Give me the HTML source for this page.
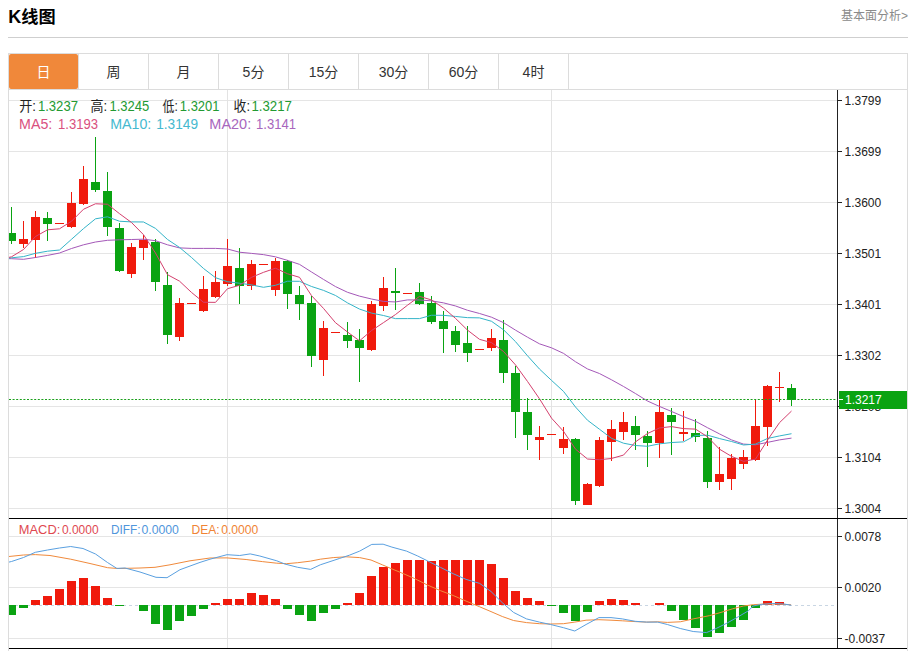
<!DOCTYPE html>
<html><head><meta charset="utf-8"><title>K线图</title>
<style>
html,body{margin:0;padding:0;background:#fff;}
body{width:915px;height:651px;overflow:hidden;position:relative;font-family:"Liberation Sans","Noto Sans CJK SC",sans-serif;}
svg{position:absolute;left:0;top:0;display:block;}
text{font-family:"Liberation Sans","Noto Sans CJK SC",sans-serif;}
</style></head><body>
<svg width="915" height="651" viewBox="0 0 915 651">

<text x="8.3" y="23" font-size="18" font-weight="bold" fill="#000">K<tspan font-size="17.2">线图</tspan></text>
<text x="908" y="20" font-size="12" fill="#8a8a8a" text-anchor="end">基本面分析&gt;</text>
<rect x="8" y="37" width="900" height="1" fill="#cfcfcf" shape-rendering="crispEdges"/>
<g shape-rendering="crispEdges">
<rect x="8" y="53" width="900" height="1" fill="#dcdcdc"/>
<rect x="8" y="89" width="900" height="1" fill="#dcdcdc"/>
<rect x="8" y="53" width="1" height="598" fill="#dcdcdc"/>
<rect x="907" y="53" width="1" height="598" fill="#dcdcdc"/>
<rect x="78" y="53" width="1" height="36" fill="#dcdcdc"/>
<rect x="148" y="53" width="1" height="36" fill="#dcdcdc"/>
<rect x="218" y="53" width="1" height="36" fill="#dcdcdc"/>
<rect x="288" y="53" width="1" height="36" fill="#dcdcdc"/>
<rect x="358" y="53" width="1" height="36" fill="#dcdcdc"/>
<rect x="428" y="53" width="1" height="36" fill="#dcdcdc"/>
<rect x="498" y="53" width="1" height="36" fill="#dcdcdc"/>
<rect x="568" y="53" width="1" height="36" fill="#dcdcdc"/>
</g>
<rect x="9" y="54" width="69" height="35" rx="2" fill="#f0883a"/>
<text x="43.5" y="77" font-size="14" fill="#fff" text-anchor="middle">日</text>
<text x="113.5" y="77" font-size="14" fill="#333" text-anchor="middle">周</text>
<text x="183.5" y="77" font-size="14" fill="#333" text-anchor="middle">月</text>
<text x="253.5" y="77" font-size="14" fill="#333" text-anchor="middle">5分</text>
<text x="323.5" y="77" font-size="14" fill="#333" text-anchor="middle">15分</text>
<text x="393.5" y="77" font-size="14" fill="#333" text-anchor="middle">30分</text>
<text x="463.5" y="77" font-size="14" fill="#333" text-anchor="middle">60分</text>
<text x="533.5" y="77" font-size="14" fill="#333" text-anchor="middle">4时</text>
<g shape-rendering="crispEdges" fill="#e5e5e5">
<rect x="9" y="100" width="828" height="1"/>
<rect x="9" y="151" width="828" height="1"/>
<rect x="9" y="202" width="828" height="1"/>
<rect x="9" y="253" width="828" height="1"/>
<rect x="9" y="304" width="828" height="1"/>
<rect x="9" y="355" width="828" height="1"/>
<rect x="9" y="406" width="828" height="1"/>
<rect x="9" y="457" width="828" height="1"/>
<rect x="9" y="508" width="828" height="1"/>
<rect x="9" y="536" width="828" height="1"/>
<rect x="9" y="587" width="828" height="1"/>
<rect x="9" y="638" width="828" height="1"/>
<rect x="227" y="90" width="1" height="558" fill="#e3e3e3"/>
<rect x="551" y="90" width="1" height="558" fill="#e3e3e3"/>
</g>
<line x1="9" y1="605.5" x2="837" y2="605.5" stroke="#c9d6e3" stroke-width="1" stroke-dasharray="3,3" shape-rendering="crispEdges"/>
<defs><clipPath id="cl2"><rect x="9" y="0" width="828" height="651"/></clipPath></defs>
<g shape-rendering="crispEdges" clip-path="url(#cl2)">
<rect x="11" y="207" width="1" height="37" fill="#0aa312"/>
<rect x="7" y="233" width="9" height="8" fill="#0aa312"/>
<rect x="23" y="221" width="1" height="27" fill="#f01a0c"/>
<rect x="19" y="239" width="9" height="5" fill="#f01a0c"/>
<rect x="35" y="211" width="1" height="47" fill="#f01a0c"/>
<rect x="31" y="217" width="9" height="23" fill="#f01a0c"/>
<rect x="47" y="212" width="1" height="29" fill="#0aa312"/>
<rect x="43" y="218" width="9" height="6" fill="#0aa312"/>
<rect x="55" y="223" width="9" height="1" fill="#f01a0c"/>
<rect x="71" y="192" width="1" height="36" fill="#f01a0c"/>
<rect x="67" y="203" width="9" height="24" fill="#f01a0c"/>
<rect x="83" y="166" width="1" height="39" fill="#f01a0c"/>
<rect x="79" y="179" width="9" height="25" fill="#f01a0c"/>
<rect x="95" y="137" width="1" height="55" fill="#0aa312"/>
<rect x="91" y="182" width="9" height="8" fill="#0aa312"/>
<rect x="107" y="172" width="1" height="64" fill="#0aa312"/>
<rect x="103" y="191" width="9" height="36" fill="#0aa312"/>
<rect x="119" y="223" width="1" height="49" fill="#0aa312"/>
<rect x="115" y="228" width="9" height="43" fill="#0aa312"/>
<rect x="131" y="243" width="1" height="35" fill="#f01a0c"/>
<rect x="127" y="247" width="9" height="27" fill="#f01a0c"/>
<rect x="143" y="235" width="1" height="25" fill="#f01a0c"/>
<rect x="139" y="240" width="9" height="8" fill="#f01a0c"/>
<rect x="155" y="239" width="1" height="52" fill="#0aa312"/>
<rect x="151" y="242" width="9" height="40" fill="#0aa312"/>
<rect x="167" y="272" width="1" height="72" fill="#0aa312"/>
<rect x="163" y="285" width="9" height="50" fill="#0aa312"/>
<rect x="179" y="298" width="1" height="43" fill="#f01a0c"/>
<rect x="175" y="303" width="9" height="34" fill="#f01a0c"/>
<rect x="187" y="303" width="9" height="1" fill="#f01a0c"/>
<rect x="203" y="276" width="1" height="36" fill="#f01a0c"/>
<rect x="199" y="289" width="9" height="22" fill="#f01a0c"/>
<rect x="215" y="271" width="1" height="27" fill="#f01a0c"/>
<rect x="211" y="282" width="9" height="15" fill="#f01a0c"/>
<rect x="227" y="239" width="1" height="47" fill="#f01a0c"/>
<rect x="223" y="266" width="9" height="18" fill="#f01a0c"/>
<rect x="239" y="248" width="1" height="56" fill="#0aa312"/>
<rect x="235" y="268" width="9" height="18" fill="#0aa312"/>
<rect x="251" y="260" width="1" height="30" fill="#f01a0c"/>
<rect x="247" y="264" width="9" height="22" fill="#f01a0c"/>
<rect x="259" y="264" width="9" height="1" fill="#f01a0c"/>
<rect x="275" y="258" width="1" height="38" fill="#f01a0c"/>
<rect x="271" y="261" width="9" height="29" fill="#f01a0c"/>
<rect x="287" y="260" width="1" height="49" fill="#0aa312"/>
<rect x="283" y="261" width="9" height="33" fill="#0aa312"/>
<rect x="299" y="286" width="1" height="34" fill="#0aa312"/>
<rect x="295" y="295" width="9" height="9" fill="#0aa312"/>
<rect x="311" y="296" width="1" height="71" fill="#0aa312"/>
<rect x="307" y="303" width="9" height="53" fill="#0aa312"/>
<rect x="323" y="321" width="1" height="55" fill="#f01a0c"/>
<rect x="319" y="328" width="9" height="32" fill="#f01a0c"/>
<rect x="331" y="332" width="9" height="1" fill="#f01a0c"/>
<rect x="347" y="322" width="1" height="26" fill="#0aa312"/>
<rect x="343" y="335" width="9" height="6" fill="#0aa312"/>
<rect x="359" y="329" width="1" height="53" fill="#0aa312"/>
<rect x="355" y="340" width="9" height="8" fill="#0aa312"/>
<rect x="371" y="301" width="1" height="50" fill="#f01a0c"/>
<rect x="367" y="304" width="9" height="46" fill="#f01a0c"/>
<rect x="383" y="277" width="1" height="34" fill="#f01a0c"/>
<rect x="379" y="288" width="9" height="18" fill="#f01a0c"/>
<rect x="395" y="268" width="1" height="42" fill="#0aa312"/>
<rect x="391" y="291" width="9" height="2" fill="#0aa312"/>
<rect x="403" y="293" width="9" height="1" fill="#f01a0c"/>
<rect x="419" y="283" width="1" height="22" fill="#0aa312"/>
<rect x="415" y="292" width="9" height="12" fill="#0aa312"/>
<rect x="431" y="296" width="1" height="28" fill="#0aa312"/>
<rect x="427" y="303" width="9" height="19" fill="#0aa312"/>
<rect x="443" y="311" width="1" height="42" fill="#0aa312"/>
<rect x="439" y="321" width="9" height="8" fill="#0aa312"/>
<rect x="455" y="326" width="1" height="26" fill="#0aa312"/>
<rect x="451" y="331" width="9" height="14" fill="#0aa312"/>
<rect x="467" y="326" width="1" height="36" fill="#0aa312"/>
<rect x="463" y="343" width="9" height="10" fill="#0aa312"/>
<rect x="475" y="349" width="9" height="1" fill="#f01a0c"/>
<rect x="491" y="329" width="1" height="22" fill="#f01a0c"/>
<rect x="487" y="338" width="9" height="10" fill="#f01a0c"/>
<rect x="503" y="320" width="1" height="63" fill="#0aa312"/>
<rect x="499" y="340" width="9" height="33" fill="#0aa312"/>
<rect x="515" y="366" width="1" height="72" fill="#0aa312"/>
<rect x="511" y="373" width="9" height="39" fill="#0aa312"/>
<rect x="527" y="398" width="1" height="52" fill="#0aa312"/>
<rect x="523" y="412" width="9" height="23" fill="#0aa312"/>
<rect x="539" y="426" width="1" height="34" fill="#f01a0c"/>
<rect x="535" y="437" width="9" height="3" fill="#f01a0c"/>
<rect x="547" y="434" width="9" height="1" fill="#f01a0c"/>
<rect x="563" y="427" width="1" height="27" fill="#f01a0c"/>
<rect x="559" y="439" width="9" height="9" fill="#f01a0c"/>
<rect x="575" y="438" width="1" height="67" fill="#0aa312"/>
<rect x="571" y="439" width="9" height="62" fill="#0aa312"/>
<rect x="587" y="483" width="1" height="22" fill="#f01a0c"/>
<rect x="583" y="484" width="9" height="21" fill="#f01a0c"/>
<rect x="599" y="437" width="1" height="50" fill="#f01a0c"/>
<rect x="595" y="440" width="9" height="46" fill="#f01a0c"/>
<rect x="611" y="420" width="1" height="41" fill="#f01a0c"/>
<rect x="607" y="429" width="9" height="13" fill="#f01a0c"/>
<rect x="623" y="412" width="1" height="28" fill="#f01a0c"/>
<rect x="619" y="422" width="9" height="10" fill="#f01a0c"/>
<rect x="635" y="416" width="1" height="34" fill="#0aa312"/>
<rect x="631" y="426" width="9" height="9" fill="#0aa312"/>
<rect x="647" y="431" width="1" height="36" fill="#0aa312"/>
<rect x="643" y="436" width="9" height="7" fill="#0aa312"/>
<rect x="659" y="400" width="1" height="58" fill="#f01a0c"/>
<rect x="655" y="412" width="9" height="31" fill="#f01a0c"/>
<rect x="671" y="408" width="1" height="47" fill="#0aa312"/>
<rect x="667" y="415" width="9" height="7" fill="#0aa312"/>
<rect x="683" y="411" width="1" height="30" fill="#f01a0c"/>
<rect x="679" y="432" width="9" height="2" fill="#f01a0c"/>
<rect x="695" y="419" width="1" height="23" fill="#0aa312"/>
<rect x="691" y="433" width="9" height="4" fill="#0aa312"/>
<rect x="707" y="431" width="1" height="57" fill="#0aa312"/>
<rect x="703" y="438" width="9" height="44" fill="#0aa312"/>
<rect x="719" y="447" width="1" height="43" fill="#f01a0c"/>
<rect x="715" y="474" width="9" height="8" fill="#f01a0c"/>
<rect x="731" y="454" width="1" height="36" fill="#f01a0c"/>
<rect x="727" y="458" width="9" height="21" fill="#f01a0c"/>
<rect x="743" y="450" width="1" height="19" fill="#f01a0c"/>
<rect x="739" y="457" width="9" height="7" fill="#f01a0c"/>
<rect x="755" y="399" width="1" height="62" fill="#f01a0c"/>
<rect x="751" y="426" width="9" height="34" fill="#f01a0c"/>
<rect x="767" y="385" width="1" height="61" fill="#f01a0c"/>
<rect x="763" y="386" width="9" height="41" fill="#f01a0c"/>
<rect x="779" y="372" width="1" height="30" fill="#f01a0c"/>
<rect x="775" y="387" width="9" height="1" fill="#f01a0c"/>
<rect x="791" y="384" width="1" height="22" fill="#0aa312"/>
<rect x="787" y="388" width="9" height="12" fill="#0aa312"/>
</g>
<g shape-rendering="crispEdges" clip-path="url(#cl2)">
<rect x="7" y="605" width="9" height="10" fill="#0aa312"/>
<rect x="19" y="605" width="9" height="3" fill="#0aa312"/>
<rect x="31" y="600" width="9" height="5" fill="#f01a0c"/>
<rect x="43" y="596" width="9" height="9" fill="#f01a0c"/>
<rect x="55" y="589" width="9" height="16" fill="#f01a0c"/>
<rect x="67" y="581" width="9" height="24" fill="#f01a0c"/>
<rect x="79" y="578" width="9" height="27" fill="#f01a0c"/>
<rect x="91" y="586" width="9" height="19" fill="#f01a0c"/>
<rect x="103" y="598" width="9" height="7" fill="#f01a0c"/>
<rect x="115" y="605" width="9" height="1" fill="#0aa312"/>
<rect x="139" y="605" width="9" height="6" fill="#0aa312"/>
<rect x="151" y="605" width="9" height="19" fill="#0aa312"/>
<rect x="163" y="605" width="9" height="25" fill="#0aa312"/>
<rect x="175" y="605" width="9" height="16" fill="#0aa312"/>
<rect x="187" y="605" width="9" height="11" fill="#0aa312"/>
<rect x="199" y="605" width="9" height="4" fill="#0aa312"/>
<rect x="211" y="603" width="9" height="2" fill="#f01a0c"/>
<rect x="223" y="599" width="9" height="6" fill="#f01a0c"/>
<rect x="235" y="599" width="9" height="6" fill="#f01a0c"/>
<rect x="247" y="593" width="9" height="12" fill="#f01a0c"/>
<rect x="259" y="595" width="9" height="10" fill="#f01a0c"/>
<rect x="271" y="599" width="9" height="6" fill="#f01a0c"/>
<rect x="283" y="605" width="9" height="4" fill="#0aa312"/>
<rect x="295" y="605" width="9" height="10" fill="#0aa312"/>
<rect x="307" y="605" width="9" height="16" fill="#0aa312"/>
<rect x="319" y="605" width="9" height="8" fill="#0aa312"/>
<rect x="331" y="605" width="9" height="4" fill="#0aa312"/>
<rect x="343" y="603" width="9" height="2" fill="#f01a0c"/>
<rect x="355" y="593" width="9" height="12" fill="#f01a0c"/>
<rect x="367" y="576" width="9" height="29" fill="#f01a0c"/>
<rect x="379" y="567" width="9" height="38" fill="#f01a0c"/>
<rect x="391" y="563" width="9" height="42" fill="#f01a0c"/>
<rect x="403" y="560" width="9" height="45" fill="#f01a0c"/>
<rect x="415" y="560" width="9" height="45" fill="#f01a0c"/>
<rect x="427" y="561" width="9" height="44" fill="#f01a0c"/>
<rect x="439" y="560" width="9" height="45" fill="#f01a0c"/>
<rect x="451" y="560" width="9" height="45" fill="#f01a0c"/>
<rect x="463" y="560" width="9" height="45" fill="#f01a0c"/>
<rect x="475" y="560" width="9" height="45" fill="#f01a0c"/>
<rect x="487" y="564" width="9" height="41" fill="#f01a0c"/>
<rect x="499" y="578" width="9" height="27" fill="#f01a0c"/>
<rect x="511" y="591" width="9" height="14" fill="#f01a0c"/>
<rect x="523" y="598" width="9" height="7" fill="#f01a0c"/>
<rect x="535" y="601" width="9" height="4" fill="#f01a0c"/>
<rect x="547" y="605" width="9" height="1" fill="#0aa312"/>
<rect x="559" y="605" width="9" height="8" fill="#0aa312"/>
<rect x="571" y="605" width="9" height="16" fill="#0aa312"/>
<rect x="583" y="605" width="9" height="7" fill="#0aa312"/>
<rect x="595" y="601" width="9" height="4" fill="#f01a0c"/>
<rect x="607" y="599" width="9" height="6" fill="#f01a0c"/>
<rect x="619" y="600" width="9" height="5" fill="#f01a0c"/>
<rect x="631" y="603" width="9" height="2" fill="#f01a0c"/>
<rect x="655" y="603" width="9" height="2" fill="#f01a0c"/>
<rect x="667" y="605" width="9" height="6" fill="#0aa312"/>
<rect x="679" y="605" width="9" height="15" fill="#0aa312"/>
<rect x="691" y="605" width="9" height="23" fill="#0aa312"/>
<rect x="703" y="605" width="9" height="32" fill="#0aa312"/>
<rect x="715" y="605" width="9" height="28" fill="#0aa312"/>
<rect x="727" y="605" width="9" height="22" fill="#0aa312"/>
<rect x="739" y="605" width="9" height="15" fill="#0aa312"/>
<rect x="751" y="605" width="9" height="3" fill="#0aa312"/>
<rect x="763" y="601" width="9" height="4" fill="#f01a0c"/>
<rect x="775" y="602" width="9" height="3" fill="#f01a0c"/>
</g>
<defs><clipPath id="cm"><rect x="9" y="90" width="828" height="428"/></clipPath><clipPath id="cd"><rect x="9" y="519" width="828" height="129"/></clipPath><clipPath id="cl"><rect x="0" y="0" width="837" height="651"/></clipPath></defs>
<polyline clip-path="url(#cm)" fill="none" stroke="#a458b8" stroke-width="1" stroke-linejoin="round" points="-0.5,258.5 11.5,258.7 23.5,259.3 35.5,257.5 47.5,255.4 59.5,253 71.5,248.5 83.5,244.8 95.5,242 107.5,240.3 119.5,239.8 131.5,239.5 143.5,239.2 155.5,240.7 167.5,244.8 179.5,247.9 191.5,248.4 203.5,248.4 215.5,248.4 227.5,249 239.5,252.23 251.5,253.38 263.5,254.63 275.5,256.85 287.5,260.35 299.5,264.36 311.5,271.98 323.5,279.43 335.5,286.58 347.5,292.29 359.5,296.14 371.5,299 383.5,301.4 395.5,301.96 407.5,299.92 419.5,299.96 431.5,300.87 443.5,302.86 455.5,305.96 467.5,310.27 479.5,313.47 491.5,317.19 503.5,322.64 515.5,330.13 527.5,337.19 539.5,343.83 551.5,347.82 563.5,353.36 575.5,361.74 587.5,368.94 599.5,373.56 611.5,379.79 623.5,386.48 635.5,393.56 647.5,401.02 659.5,406.45 671.5,411.46 683.5,416.62 695.5,421.25 707.5,427.71 719.5,433.91 731.5,439.89 743.5,444.09 755.5,444.81 767.5,442.37 779.5,439.88 791.5,438.12"/>
<polyline clip-path="url(#cm)" fill="none" stroke="#34b4c8" stroke-width="1" stroke-linejoin="round" points="-0.5,259 11.5,257.8 23.5,256.6 35.5,253.3 47.5,251.2 59.5,250 71.5,239.3 83.5,228.6 95.5,218.8 107.5,216.8 119.5,221.24 131.5,221.88 143.5,221.97 155.5,228.41 167.5,239.46 179.5,247.41 191.5,257.47 203.5,268.47 215.5,277.7 227.5,281.69 239.5,283.22 251.5,284.89 263.5,287.29 275.5,285.29 287.5,281.23 299.5,281.31 311.5,286.48 323.5,290.38 335.5,295.47 347.5,302.89 359.5,309.07 371.5,313.1 383.5,315.51 395.5,318.63 407.5,318.6 419.5,318.6 431.5,315.26 443.5,315.33 455.5,316.45 467.5,317.65 479.5,317.86 491.5,321.29 503.5,329.77 515.5,341.63 527.5,355.78 539.5,369.07 551.5,380.38 563.5,391.39 575.5,407.03 587.5,420.23 599.5,429.26 611.5,438.3 623.5,443.19 635.5,445.5 647.5,446.27 659.5,443.83 671.5,442.54 683.5,441.86 695.5,435.47 707.5,435.18 719.5,438.57 731.5,441.48 743.5,444.98 755.5,444.11 767.5,438.47 779.5,435.93 791.5,433.71"/>
<polyline clip-path="url(#cm)" fill="none" stroke="#d4406e" stroke-width="1" stroke-linejoin="round" points="-0.5,259.5 11.5,256.8 23.5,249.5 35.5,236.5 47.5,229.8 59.5,228.8 71.5,221.26 83.5,209.24 95.5,203.78 107.5,204.24 119.5,213.68 131.5,222.5 143.5,234.7 155.5,253.04 167.5,274.68 179.5,281.14 191.5,292.44 203.5,302.24 215.5,302.36 227.5,288.7 239.5,285.3 251.5,277.34 263.5,272.34 275.5,268.22 287.5,273.76 299.5,277.32 311.5,295.62 323.5,308.42 335.5,322.72 347.5,332.02 359.5,340.82 371.5,330.58 383.5,322.6 395.5,314.54 407.5,305.18 419.5,296.38 431.5,299.94 443.5,308.06 455.5,318.36 467.5,330.12 479.5,339.34 491.5,342.64 503.5,351.48 515.5,364.9 527.5,381.44 539.5,398.8 551.5,418.12 563.5,431.3 575.5,449.16 587.5,459.02 599.5,459.72 611.5,458.48 623.5,455.08 635.5,441.84 647.5,433.52 659.5,427.94 671.5,426.6 683.5,428.64 695.5,429.1 707.5,436.84 719.5,449.2 731.5,456.36 743.5,461.32 755.5,459.12 767.5,440.1 779.5,422.66 791.5,411.06"/>
<polyline clip-path="url(#cd)" fill="none" stroke="#f08a3c" stroke-width="1" stroke-linejoin="round" points="8,556.6 23.5,555 35.3,554.6 50,555.5 70.7,559.2 90,563.5 107.6,567.7 118,568.5 140,568 155,567.3 170,564.8 190,560.8 210,558 227,557.9 246.1,559.5 262.3,561.6 276.8,563.2 286.5,563.7 297.7,562.7 310.6,561.1 320.3,559.2 333.2,557.6 346.1,556.8 359.7,557.6 371,560 382.3,564.8 391.9,568.9 401.6,572.9 414.5,578.5 427.4,585 440.3,590.6 453.2,595.5 466.1,601.1 479.7,606.8 491,611.6 502.3,616.5 513.5,620.5 526.5,622.6 539.4,623.7 550.6,624 563.5,623.7 574.8,622.1 586.1,620.2 598.9,619.7 611,620.2 622.3,620.8 635.2,621.6 646.5,622.1 657.7,621.8 667.4,622.4 680.3,621.8 693.2,618.9 709.7,615.6 721,612.4 732.3,608.9 743.5,606 753.2,604.7 764.5,604 775.8,604 783.9,604.4 791.1,604.8"/>
<polyline clip-path="url(#cd)" fill="none" stroke="#5aa0e0" stroke-width="1" stroke-linejoin="round" points="8,562.3 11.5,561.5 23.5,557.5 35.3,552.3 47.5,550 59.5,548 70.7,546.5 83,548.5 95.5,554 107.5,562.5 116.8,568.4 125,568 140,572 156,577.3 167,577.7 180,569.7 200,562.4 210,559.2 227,554.7 239.7,555.5 250.2,553.9 259.8,556 276.8,560.8 284.8,564 297.7,567.3 310.6,569.4 320.3,564.8 330,561.6 339.7,558.4 349.4,555.2 359.7,551.1 371.8,544.4 383.1,544.2 391.9,547.1 406.5,551.1 417.7,556 427.4,560.8 440.3,567.3 453.2,573.7 466.1,579.4 479.7,583.4 491,591.5 502.3,602.7 513.5,612.4 526.5,618.9 539.4,622.1 550.6,624.5 563.5,627.7 574.8,631 586.1,624.5 598.9,617.6 611,617.6 622.3,618.9 635.2,621.3 646.5,622.1 657.7,622.1 667.4,624.5 680.3,628.5 693.2,631.5 706.5,632.6 716.1,628.5 727.4,622.9 738.7,616.5 748.4,610.8 753.2,606 761.3,604.4 772.6,603.5 783.9,604 791.1,605.2"/>
<line x1="9" y1="399.5" x2="837" y2="399.5" stroke="#1aa01a" stroke-width="1" stroke-dasharray="2,1.6"/>
<g shape-rendering="crispEdges" fill="#222">
<rect x="837" y="90" width="1" height="558"/>
<rect x="9" y="518" width="898" height="1" fill="#000"/>
<rect x="9" y="648" width="898" height="1" fill="#000"/>
<rect x="838" y="100" width="4" height="1"/>
<rect x="838" y="151" width="4" height="1"/>
<rect x="838" y="202" width="4" height="1"/>
<rect x="838" y="253" width="4" height="1"/>
<rect x="838" y="304" width="4" height="1"/>
<rect x="838" y="355" width="4" height="1"/>
<rect x="838" y="406" width="4" height="1"/>
<rect x="838" y="457" width="4" height="1"/>
<rect x="838" y="508" width="4" height="1"/>
<rect x="838" y="536" width="4" height="1"/>
<rect x="838" y="587" width="4" height="1"/>
<rect x="838" y="638" width="4" height="1"/>
</g>
<text x="844.5" y="105" font-size="12" fill="#222">1.3799</text>
<text x="844.5" y="156" font-size="12" fill="#222">1.3699</text>
<text x="844.5" y="207" font-size="12" fill="#222">1.3600</text>
<text x="844.5" y="258" font-size="12" fill="#222">1.3501</text>
<text x="844.5" y="309" font-size="12" fill="#222">1.3401</text>
<text x="844.5" y="360" font-size="12" fill="#222">1.3302</text>
<text x="844.5" y="411" font-size="12" fill="#222">1.3203</text>
<text x="844.5" y="462" font-size="12" fill="#222">1.3104</text>
<text x="844.5" y="513" font-size="12" fill="#222">1.3004</text>
<text x="844.5" y="541" font-size="12" fill="#222">0.0078</text>
<text x="844.5" y="592" font-size="12" fill="#222">0.0020</text>
<text x="844.5" y="643" font-size="12" fill="#222">-0.0037</text>
<rect x="839" y="391" width="68" height="18" fill="#0aa312" shape-rendering="crispEdges"/>
<rect x="839" y="399" width="4" height="1" fill="#fff" shape-rendering="crispEdges"/>
<text x="845" y="403.5" font-size="12" fill="#fff">1.3217</text>
<text x="19.22" y="110.8" font-size="13.8" fill="#222" textLength="16.82" lengthAdjust="spacingAndGlyphs">开:</text>
<text x="37.91" y="110.8" font-size="13.8" fill="#239a32" textLength="40.05" lengthAdjust="spacingAndGlyphs">1.3237</text>
<text x="90.58" y="110.8" font-size="13.8" fill="#222" textLength="16.65" lengthAdjust="spacingAndGlyphs">高:</text>
<text x="109.46" y="110.8" font-size="13.8" fill="#239a32" textLength="39.86" lengthAdjust="spacingAndGlyphs">1.3245</text>
<text x="162.52" y="110.8" font-size="13.8" fill="#222" textLength="15.27" lengthAdjust="spacingAndGlyphs">低:</text>
<text x="179.84" y="110.8" font-size="13.8" fill="#239a32" textLength="39.63" lengthAdjust="spacingAndGlyphs">1.3201</text>
<text x="233.59" y="110.8" font-size="13.8" fill="#222" textLength="16.39" lengthAdjust="spacingAndGlyphs">收:</text>
<text x="251.43" y="110.8" font-size="13.8" fill="#239a32" textLength="40.53" lengthAdjust="spacingAndGlyphs">1.3217</text>
<text x="19.12" y="128.6" font-size="13.8" fill="#d9507e" textLength="33.17" lengthAdjust="spacingAndGlyphs">MA5:</text>
<text x="58.02" y="128.6" font-size="13.8" fill="#d9507e" textLength="40.03" lengthAdjust="spacingAndGlyphs">1.3193</text>
<text x="110.26" y="128.6" font-size="13.8" fill="#45b9cf" textLength="41.04" lengthAdjust="spacingAndGlyphs">MA10:</text>
<text x="156.21" y="128.6" font-size="13.8" fill="#45b9cf" textLength="41.79" lengthAdjust="spacingAndGlyphs">1.3149</text>
<text x="209.33" y="128.6" font-size="13.8" fill="#a866bd" textLength="41.82" lengthAdjust="spacingAndGlyphs">MA20:</text>
<text x="256.02" y="128.6" font-size="13.8" fill="#a866bd" textLength="40.05" lengthAdjust="spacingAndGlyphs">1.3141</text>
<text x="18.85" y="533.6" font-size="12" fill="#e04850" textLength="41.42" lengthAdjust="spacingAndGlyphs">MACD:</text>
<text x="61.93" y="533.6" font-size="12" fill="#e04850" textLength="36.61" lengthAdjust="spacingAndGlyphs">0.0000</text>
<text x="110.93" y="533.6" font-size="12" fill="#4f96dc" textLength="29.55" lengthAdjust="spacingAndGlyphs">DIFF:</text>
<text x="141.48" y="533.6" font-size="12" fill="#4f96dc" textLength="37.41" lengthAdjust="spacingAndGlyphs">0.0000</text>
<text x="191.56" y="533.6" font-size="12" fill="#f08434" textLength="28.16" lengthAdjust="spacingAndGlyphs">DEA:</text>
<text x="221.19" y="533.6" font-size="12" fill="#f08434" textLength="37.15" lengthAdjust="spacingAndGlyphs">0.0000</text>
</svg></body></html>
